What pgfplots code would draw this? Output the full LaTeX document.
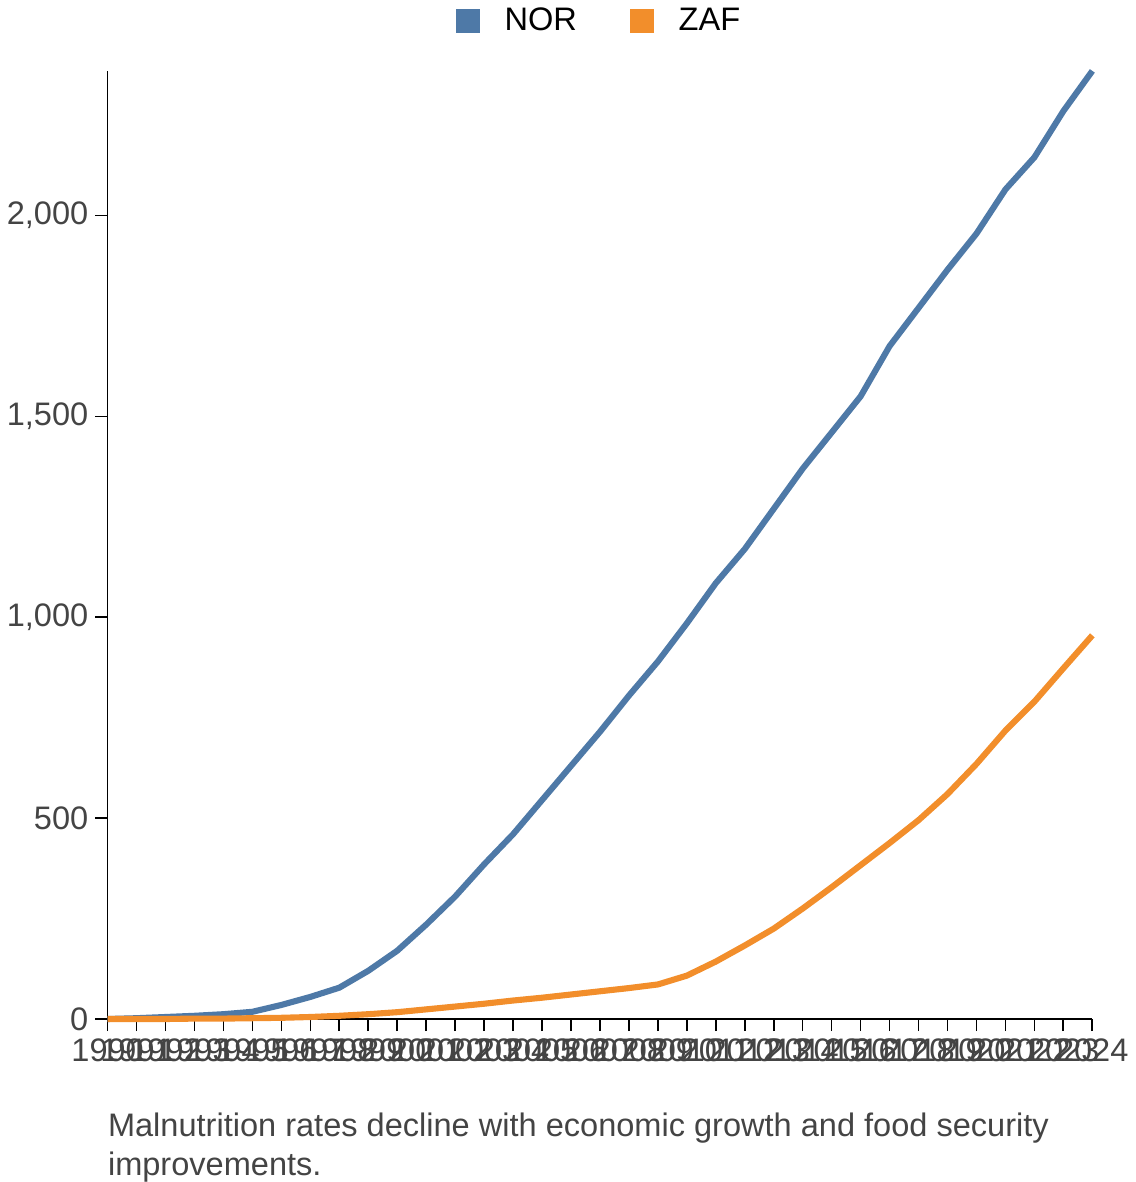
\documentclass[border=0pt]{standalone}
\usepackage{pgfplots}
\pgfplotsset{compat=1.18}
\usepackage{fontspec}
\setmainfont{Liberation Sans}
\definecolor{cblue}{HTML}{4E79A7}
\definecolor{corange}{HTML}{F28E2B}
\definecolor{ctext}{HTML}{444444}
\begin{document}
\begin{tikzpicture}
\begin{axis}[
  scale only axis, width=484pt, height=466pt,
  xmin=1990, xmax=2024, ymin=0, ymax=2360,
  axis lines=left, axis line style={black, line width=0.8pt, -},
  xtick={1990,...,2024},
  xticklabel={\pgfmathprintnumber[1000 sep={}]{\tick}},
  ytick={0,500,1000,1500,2000},
  yticklabel style={/pgf/number format/1000 sep={,}},
  /pgf/number format/assume math mode=true,
  tick label style={font=\fontsize{16}{18}\selectfont, text=ctext},
  tick align=outside, major tick length=6pt,
  tick style={black, line width=0.8pt},
  legend style={at={(0.5,1.03)}, anchor=south, draw=none, legend columns=2,
    font=\fontsize{16}{18}\selectfont, /tikz/every even column/.append style={column sep=24pt}},
  legend image code/.code={\fill[#1, draw=none] (0pt,-6pt) rectangle (12pt,6pt);},
  clip=false,
]
\addplot[cblue, line width=3pt] coordinates {
(1990,0)(1991,2)(1992,5)(1993,8)(1994,12)(1995,18)(1996,35)(1997,55)(1998,78)(1999,120)
(2000,170)(2001,235)(2002,305)(2003,385)(2004,460)(2005,545)(2006,630)(2007,715)(2008,805)(2009,890)
(2010,985)(2011,1085)(2012,1170)(2013,1270)(2014,1370)(2015,1460)(2016,1550)(2017,1675)(2018,1770)(2019,1865)
(2020,1955)(2021,2065)(2022,2145)(2023,2260)(2024,2360)};
\addlegendentry{\hspace{10pt}NOR}
\addplot[corange, line width=3pt] coordinates {
(1990,0)(1991,0)(1992,0)(1993,1)(1994,1)(1995,2)(1996,3)(1997,5)(1998,8)(1999,12)
(2000,17)(2001,24)(2002,31)(2003,38)(2004,46)(2005,53)(2006,61)(2007,69)(2008,77)(2009,86)
(2010,108)(2011,143)(2012,183)(2013,225)(2014,275)(2015,328)(2016,383)(2017,438)(2018,495)(2019,560)
(2020,635)(2021,718)(2022,790)(2023,873)(2024,955)};
\addlegendentry{\hspace{10pt}ZAF}
\node[anchor=north west, align=left, text=ctext, font=\fontsize{16}{19}\selectfont, inner sep=0pt]
  at ([yshift=-46pt]rel axis cs:0,0) {Malnutrition rates decline with economic growth and food security\\improvements.};
\end{axis}
\end{tikzpicture}
\end{document}
